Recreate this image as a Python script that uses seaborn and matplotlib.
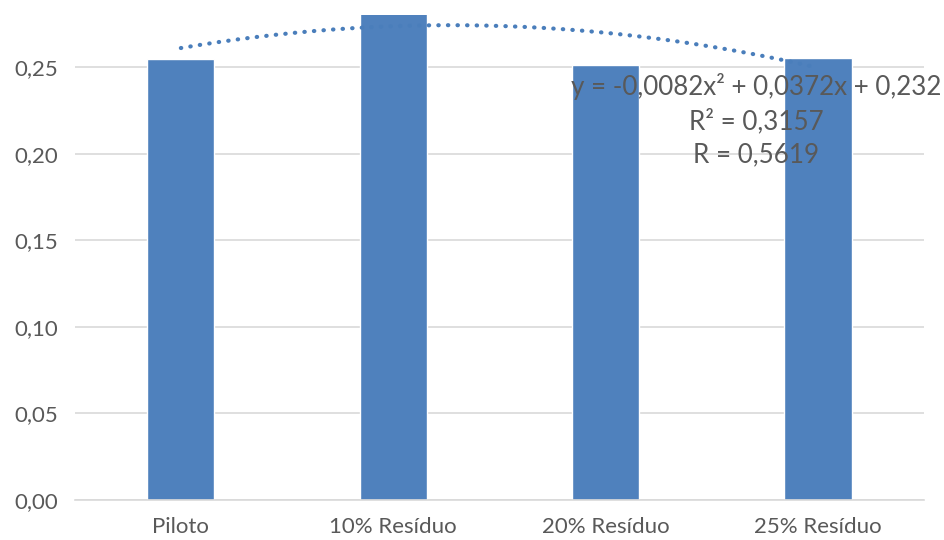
import numpy as np
import pandas as pd
import matplotlib
matplotlib.use("Agg")
import matplotlib.pyplot as plt
import seaborn as sns

# Sample categories and measured values
categories = ["Piloto", "10% Resíduo", "20% Resíduo", "25% Resíduo"]
values = [0.2546, 0.2914, 0.2512, 0.2552]

# Polynomial trendline (order 2) as reported: y = a x² + b x + c, x = 1..n
trend_coefs = [-0.0082, 0.0372, 0.232]
trend_label = ["y = -0,0082x² + 0,0372x + 0,232", "R² = 0,3157", "R = 0,5619"]

yticks = [0.00, 0.05, 0.10, 0.15, 0.20, 0.25]
ytick_labels = ["0,00", "0,05", "0,10", "0,15", "0,20", "0,25"]

sns.set_theme(style="white")
plt.rcParams["font.family"] = ["Lato", "DejaVu Sans"]

bar_color = "#4f81bd"
text_color = "#595959"
grid_color = "#d9d9d9"

df = pd.DataFrame({"categoria": categories, "valor": values})

fig = plt.figure(figsize=(9.45, 5.40), dpi=100)
ax = fig.add_axes([0.079, 0.074, 0.899, 0.898])

sns.barplot(data=df, x="categoria", y="valor", color=bar_color,
            saturation=1, width=0.316, ax=ax, zorder=2)

# trendline over the category range
xs = np.linspace(1, len(categories), 200)
ys = np.polyval(trend_coefs, xs)
ax.plot(xs - 1, ys, linestyle=(0, (0.1, 2.2)), dash_capstyle="round",
        color="#4a7ebb", linewidth=3.0, zorder=3)

ax.text(2.71, 0.2194, "\n".join(trend_label), ha="center", va="center",
        fontsize=18.7, color=text_color, linespacing=1.42, zorder=4)

ax.set_ylim(0, 0.28)
ax.set_xlim(-0.5, len(categories) - 0.5)
ax.set_yticks(yticks)
ax.set_yticklabels(ytick_labels)
ax.set_xlabel("")
ax.set_ylabel("")
ax.tick_params(axis="both", length=0, labelsize=16, labelcolor=text_color)
ax.tick_params(axis="x", pad=12)
ax.tick_params(axis="y", pad=12)

ax.yaxis.grid(True, color=grid_color, linewidth=1.2, zorder=0)
ax.set_axisbelow(True)
for side in ["top", "right", "left"]:
    ax.spines[side].set_visible(False)
ax.spines["bottom"].set_color(grid_color)
ax.spines["bottom"].set_linewidth(1.2)

fig.savefig("out.png", dpi=100, facecolor="white")
